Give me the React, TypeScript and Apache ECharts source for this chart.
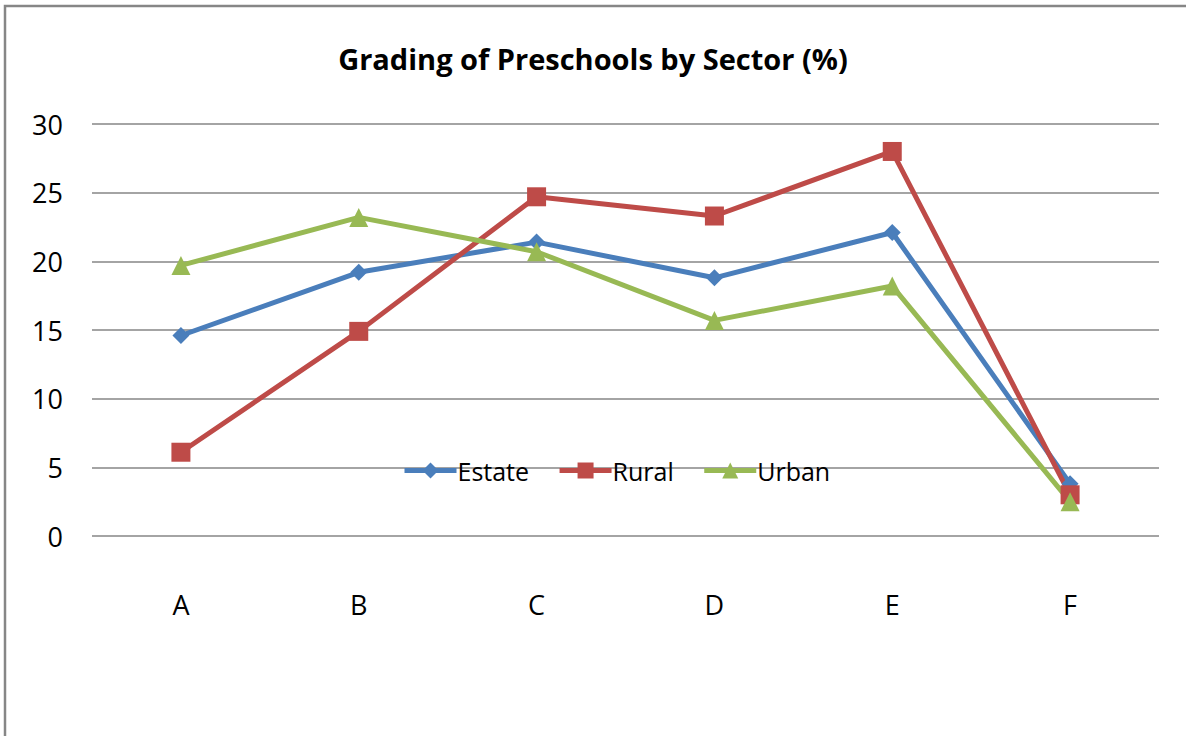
import React, { useEffect, useRef } from "react";
import * as echarts from "echarts";

const categories = ["A", "B", "C", "D", "E", "F"];
const estate = [14.6, 19.2, 21.4, 18.8, 22.1, 3.8];
const rural = [6.1, 14.9, 24.7, 23.3, 28.0, 3.0];
const urban = [19.7, 23.2, 20.7, 15.7, 18.2, 2.5];
const titleText = "Grading of Preschools by Sector (%)";

const FONT = "'Open Sans', 'Noto Sans', sans-serif";

export default function App() {
  const ref = useRef<HTMLDivElement>(null);
  useEffect(() => {
    document.body.style.margin = "0";
    const chart = echarts.init(ref.current!, null, { renderer: "svg" });
    const mk = (name: string, data: number[], color: string, symbol: string, size: number) => ({
      name,
      type: "line",
      data,
      symbol,
      symbolSize: size,
      showSymbol: true,
      lineStyle: { color, width: 5 },
      itemStyle: { color },
    });
    chart.setOption({
      animation: false,
      backgroundColor: "#ffffff",
      title: {
        text: titleText,
        left: "center",
        top: 39,
        textStyle: { fontFamily: FONT, fontSize: 29, fontWeight: "bold", color: "#000" },
      },
      legend: {
        left: 397,
        top: 453,
        itemWidth: 52,
        itemHeight: 20,
        itemGap: 28,
        lineStyle: { width: 5 },
        textStyle: { fontFamily: FONT, fontSize: 25, color: "#000", padding: [0, 0, 0, -4] },
        data: ["Estate", "Rural", "Urban"],
      },
      graphic: [
        {
          type: "rect",
          shape: { x: 5, y: 6, width: 1300, height: 900 },
          style: { fill: "none", stroke: "#868686", lineWidth: 2.5 },
          silent: true,
          z: -1,
        },
      ],
      grid: { left: 92, right: 27, top: 124, bottom: 200, containLabel: false },
      xAxis: {
        type: "category",
        data: categories,
        boundaryGap: true,
        axisLine: { show: false },
        axisTick: { show: false },
        axisLabel: { margin: 55, fontFamily: FONT, fontSize: 27, color: "#000" },
      },
      yAxis: {
        type: "value",
        min: 0,
        max: 30,
        interval: 5,
        axisLine: { show: false },
        axisTick: { show: false },
        axisLabel: { margin: 29, fontFamily: FONT, fontSize: 27, color: "#000" },
        splitLine: { lineStyle: { color: "#868686", width: 1.5 } },
      },
      series: [
        mk("Estate", estate, "#4A7EBB", "diamond", 17),
        mk("Rural", rural, "#BE4B48", "rect", 19),
        mk("Urban", urban, "#98B954", "triangle", 19),
      ],
    });
    return () => chart.dispose();
  }, []);
  return <div ref={ref} style={{ width: 1186, height: 736 }} />;
}
